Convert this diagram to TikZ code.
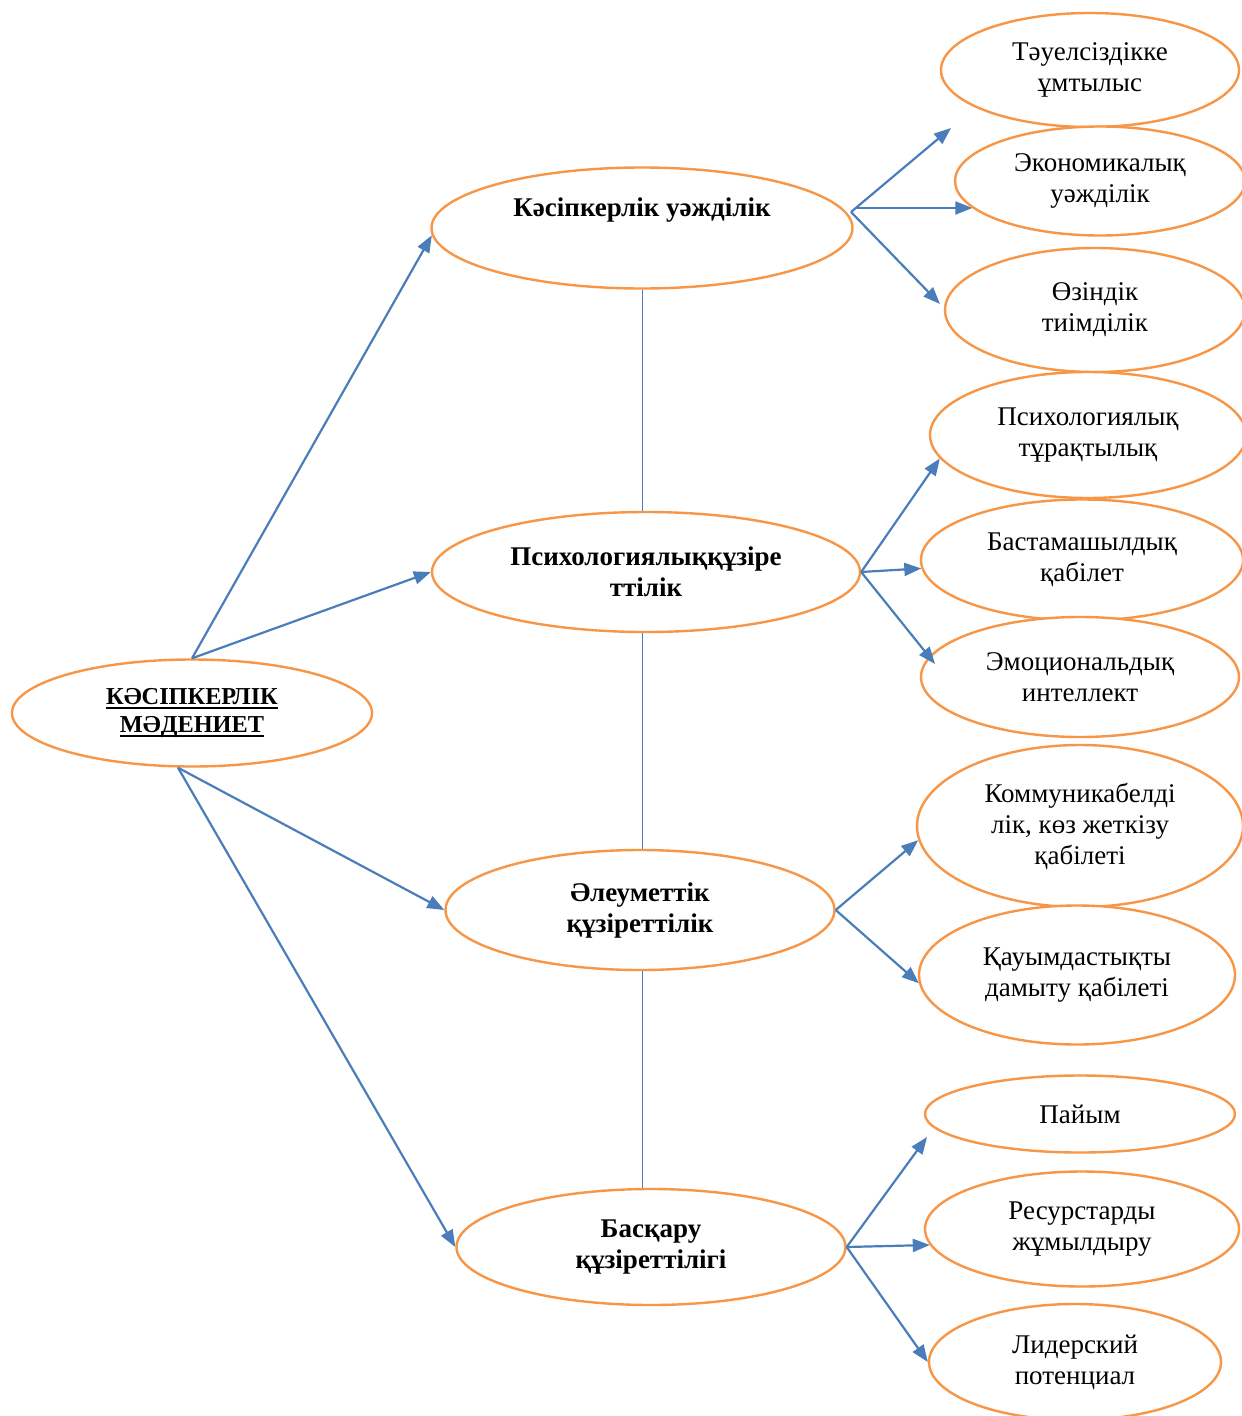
\documentclass[tikz,border=0pt]{standalone}
\usepackage{fontspec}
\setmainfont{Liberation Serif}
\usetikzlibrary{shapes.geometric,arrows.meta,calc}
\definecolor{oline}{HTML}{F79646}
\definecolor{bline}{HTML}{4A7EBB}
\tikzset{
  ell/.style={ellipse, draw=oline, line width=2.4pt, fill=white, inner sep=0pt, align=center,
     font=\fontsize{27}{31}\selectfont},
  boldell/.style={ell, font=\fontsize{27}{31}\selectfont\bfseries},
  arr/.style={draw=bline, line width=2.2pt, -{Triangle[length=17pt,width=13pt]}},
  vline/.style={draw=bline, line width=1pt},
}
\newcommand{\ulx}[1]{\setbox0\hbox{#1}\rlap{\rule[-4.5pt]{\wd0}{2.4pt}}\box0}
\begin{document}
\begin{tikzpicture}[x=1pt,y=-1pt]
\useasboundingbox (0,0) rectangle (1242,1416);
\clip (0,0) rectangle (1242,1416);
\fill[white] (0,0) rectangle (1242,1416);

% main
\node[boldell, minimum width=360pt, minimum height=107pt, font=\fontsize{24.3}{28}\selectfont\bfseries] (m) at (192,713) {\ulx{КӘСІПКЕРЛІК}\\\ulx{МӘДЕНИЕТ}};

% middle column
\node[boldell, minimum width=421pt, minimum height=121pt,
  label={[font=\fontsize{27}{31}\selectfont\bfseries, yshift=18pt]center:Кәсіпкерлік уәжділік}] (k) at (642,228) {};
\node[boldell, minimum width=428pt, minimum height=120pt] (p) at (646,572) {Психологиялыққұзіре\\ттілік};
\node[boldell, minimum width=389pt, minimum height=120pt] (e) at (640,910) {Әлеуметтік\\құзіреттілік};
\node[boldell, minimum width=389pt, minimum height=116pt] (b) at (651,1247) {Басқару\\құзіреттілігі};

% vertical links
\draw[vline] (k.south) -- (k.south |- p.north);
\draw[vline] (k.south |- p.south) -- (k.south |- e.north);
\draw[vline] (k.south |- e.south) -- (k.south |- b.north);

% right column
\node[ell, minimum width=298pt, minimum height=114pt] (t1) at (1090,70) {Тәуелсіздікке\\ұмтылыс};
\node[ell, minimum width=290pt, minimum height=109pt] (t2) at (1100,181) {Экономикалық\\уәжділік};
\node[ell, minimum width=300pt, minimum height=124pt] (t3) at (1095,310) {Өзіндік\\тиімділік};
\node[ell, minimum width=316pt, minimum height=126pt] (s1) at (1088,435) {Психологиялық\\тұрақтылық};
\node[ell, minimum width=322pt, minimum height=121pt] (s2) at (1082,560) {Бастамашылдық\\қабілет};
\node[ell, minimum width=318pt, minimum height=120pt] (s3) at (1080,677) {Эмоциональдық\\интеллект};
\node[ell, minimum width=326pt, minimum height=162pt] (c1) at (1080,826) {Коммуникабелді\\лік, көз жеткізу\\қабілеті};
\node[ell, minimum width=316pt, minimum height=139pt] (c2) at (1077,975) {Қауымдастықты\\дамыту қабілеті};
\node[ell, minimum width=310pt, minimum height=77pt] (l1) at (1080,1114) {Пайым};
\node[ell, minimum width=314pt, minimum height=115pt] (l2) at (1082,1229) {Ресурстарды\\жұмылдыру};
\node[ell, minimum width=292pt, minimum height=116pt] (l3) at (1075,1362) {Лидерский\\потенциал};

% free arrow ends
\coordinate (kout) at (851,212);
\coordinate (kmid) at (856,208);
\coordinate (t1in) at (951,128);
\coordinate (l1in) at (927,1137);
\coordinate (t3in) at (940,304);
\coordinate (s3in) at (935,664);

% main arrows
\draw[arr] (m.north) -- (k.182);
\draw[arr] (m.north) -- (p.west);
\draw[arr] ($(m.south)+(-14,0)$) -- (e.west);
\draw[arr] ($(m.south)+(-14,0)$) -- (b.west);

% sub arrows
\draw[arr] (kout) -- (t1in);
\draw[arr] (kmid) -- (kmid -| t2.192);
\draw[arr] (kout) -- (t3in);

\draw[arr] (p.east) -- (s1.189);
\draw[arr] (p.east) -- (s2.183);
\draw[arr] (p.east) -- (s3in);

\draw[arr] (e.east) -- (c1.185);
\draw[arr] (e.east) -- (c2.183);

\draw[arr] (b.east) -- (l1in);
\draw[arr] (b.east) -- (l2.186);
\draw[arr] (b.east) -- (l3.west);
\end{tikzpicture}
\end{document}
